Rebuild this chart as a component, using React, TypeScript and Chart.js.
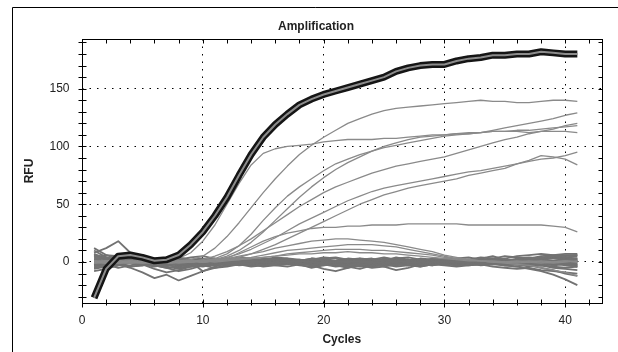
import React, { useEffect, useRef } from 'react';
import { Chart, registerables } from 'chart.js';

Chart.register(...registerables);

const FONT = "'Liberation Sans', Arial, sans-serif";

const CYCLES = [1, 2, 3, 4, 5, 6, 7, 8, 9, 10, 11, 12, 13, 14, 15, 16, 17, 18, 19, 20, 21, 22, 23, 24, 25, 26, 27, 28, 29, 30, 31, 32, 33, 34, 35, 36, 37, 38, 39, 40, 41];

const X_TICKS = [0, 10, 20, 30, 40];
const Y_TICKS = [0, 50, 100, 150];

const BOLD = [-31, -6, 5, 6, 4, 1, 2, 6, 15, 26, 40, 56, 75, 93, 108, 119, 128, 136, 141, 145, 148, 151, 154, 157, 160, 165, 168, 170, 171, 171, 174, 176, 177, 179, 179, 180, 180, 182, 181, 180, 180];

const CURVE_A = [0, 1, 0, -1, 0, 1, 0, 1, 2, 5, 12, 22, 34, 47, 60, 72, 83, 93, 101, 108, 114, 120, 124, 128, 131, 133, 134, 135, 136, 137, 138, 139, 140, 139, 139, 138, 138, 139, 140, 140, 139];
const CURVE_B = [1, 0, -1, 0, 1, 0, 1, 3, 8, 18, 32, 50, 68, 84, 94, 98, 100, 101, 102, 104, 105, 106, 106, 106, 107, 107, 108, 109, 110, 110, 111, 111, 112, 113, 113, 113, 112, 113, 113, 113, 112];
const CURVE_D = [0, -1, 0, 1, 0, -1, 0, 1, 0, 1, 3, 7, 14, 24, 36, 47, 57, 65, 72, 79, 85, 89, 93, 96, 99, 101, 103, 105, 107, 109, 110, 111, 112, 114, 116, 118, 120, 122, 124, 127, 129];
const CURVE_E = [-1, 0, 1, 0, -1, 0, 1, 0, 0, 2, 5, 9, 14, 20, 27, 34, 41, 48, 54, 60, 65, 69, 73, 77, 80, 83, 85, 87, 89, 91, 94, 97, 100, 103, 106, 108, 111, 113, 115, 118, 120];
const CURVE_F = [1, 0, 0, -1, 1, 0, -1, 0, 1, 0, 2, 5, 10, 17, 26, 36, 46, 56, 65, 73, 80, 86, 91, 96, 100, 103, 106, 108, 109, 110, 111, 112, 112, 113, 113, 114, 114, 115, 116, 117, 118];
const CURVE_G = [0, 1, 0, -1, 0, 1, 0, -1, 0, 1, 2, 4, 7, 11, 16, 21, 27, 33, 38, 43, 48, 53, 57, 61, 64, 66, 68, 70, 72, 74, 76, 78, 79, 81, 83, 85, 87, 89, 90, 92, 95];
const CURVE_K = [0, -1, 0, 1, 0, 0, -1, 0, 1, 0, 1, 2, 4, 7, 11, 15, 20, 25, 30, 35, 40, 45, 50, 54, 58, 61, 64, 66, 68, 70, 72, 75, 77, 79, 81, 85, 88, 92, 91, 89, 84];
const CURVE_I = [0, 1, -1, 0, 1, 0, -1, 0, 1, 0, 1, 3, 8, 13, 18, 22, 25, 27, 29, 30, 30, 31, 31, 32, 32, 32, 33, 33, 33, 33, 33, 32, 32, 32, 32, 32, 32, 32, 31, 30, 26];

const HUMP_1 = [1, -1, 0, 1, 0, -1, 0, 1, 0, 1, 2, 3, 5, 7, 9, 12, 14, 16, 18, 19, 20, 20, 19, 18, 17, 15, 13, 11, 9, 6, 4, 2, 1, 0, 0, -1, 0, 1, 0, 1, 0];
const HUMP_2 = [0, 1, -1, 0, 1, 0, -1, 0, 1, 0, 1, 2, 3, 4, 6, 8, 10, 11, 12, 13, 14, 15, 15, 15, 14, 13, 11, 9, 7, 5, 3, 2, 1, 0, 0, 1, 0, -1, 0, 1, 0];
const HUMP_3 = [-1, 0, 1, 0, -1, 0, 1, 0, 0, 1, 0, 1, 2, 3, 4, 5, 7, 8, 9, 10, 11, 11, 11, 10, 10, 9, 8, 7, 6, 4, 3, 2, 1, 1, 0, 0, 1, 0, -1, 0, 1];
const HUMP_4 = [0, 0, 1, 0, 1, 0, -1, 0, 1, 0, 1, 2, 2, 3, 4, 5, 6, 7, 7, 8, 8, 9, 8, 8, 7, 7, 6, 5, 4, 3, 2, 1, 1, 0, -1, -2, -3, -5, -7, -9, -12];

const NOISE_01 = [8, 12, 18, 8, 2, -1, 0, 1, -1, 0, 1, 0, -1, 1, 0, -1, 0, 1, 0, -1, 0, 1, 0, 0, -1, 1, 0, -1, 0, 1, 0, 0, 1, -1, 0, 1, 0, -1, 1, 2, 3];
const NOISE_02 = [2, 0, -2, -5, -9, -14, -11, -16, -12, -8, -5, -3, -2, -1, 0, -1, 0, 1, 0, -1, 0, 0, 1, 0, -1, 0, 1, 0, 0, -1, 0, 1, 0, 0, -1, -2, -3, -5, -7, -10, -12];
const NOISE_03 = [-5, -3, 0, 1, -2, -6, -9, -7, -4, -2, -3, -1, 0, 1, -1, 0, 2, 1, 0, -2, -1, 0, 1, 0, 2, 1, 0, -1, 0, 1, 0, -1, 0, 1, 0, 1, 0, 0, 1, 2, 1];
const NOISE_04 = [12, 6, 3, 2, 1, 0, -1, 0, 1, -1, 0, 2, 1, 0, -1, 0, 1, 2, 0, -1, 1, 0, -1, 2, 0, -1, 0, 1, 0, -1, 1, 0, 3, 1, 0, 2, 3, 4, 5, 6, 6];
const NOISE_05 = [-8, -6, -3, -1, 0, -2, -4, -6, -3, -1, 0, -2, -1, 0, -3, -2, 0, -1, -3, -6, -8, -5, -3, -1, -4, -7, -5, -2, -1, 0, -1, 0, -1, -2, -3, -4, -6, -8, -11, -15, -20];
const NOISE_06 = [3, 4, 2, 0, 1, 2, 0, -1, 1, 2, 1, 0, 2, 1, 3, 2, 1, 0, 2, 3, 1, 2, 0, 1, 3, 2, 1, 2, 0, 1, 2, 1, 0, 2, 1, 3, 4, 3, 5, 4, 5];
const NOISE_07 = [0, -2, -1, 1, 0, -1, -3, -2, 0, -8, -4, -1, 0, -1, -2, 0, -1, -2, 0, -1, -2, -4, -6, -3, -1, 0, -2, -1, 0, -1, 0, -1, -2, -1, -3, -2, -4, -3, -5, -6, -7];
const NOISE_08 = [5, 2, 0, -1, 1, 3, 1, 0, 2, 1, -1, 0, 1, 3, 1, 0, -1, 1, 2, 0, 1, 3, 2, 0, 1, 4, 2, 1, 0, 1, 0, 2, 1, 0, 1, 0, 2, 1, 0, -1, -2];
const NOISE_09 = [-3, 0, 2, 3, 2, 0, -1, -2, -1, 0, 1, 0, -1, -2, 0, 1, 0, -2, -1, 0, -1, -3, -1, 0, 1, 0, -1, -2, -3, -1, 0, 1, 3, 5, 2, 0, 1, 2, 0, 1, 0];
const NOISE_10 = [7, 3, 1, 0, -1, -2, 0, 1, 0, -1, -2, -1, 1, 0, -1, -2, -1, 0, 1, -1, -2, 0, -1, -3, -2, 0, 1, 0, -1, 0, -1, 0, 1, 0, -1, 0, 1, 2, 3, 4, 3];
const NOISE_11 = [-1, 1, 3, 2, 0, -3, -5, -8, -6, -3, -1, 0, 1, 0, 2, 1, 0, 1, 3, 2, 0, 1, 0, -1, 0, 2, 1, 0, 1, 0, -1, 0, -1, 0, -2, -1, 0, -2, -1, -3, -4];
const NOISE_12 = [1, -1, 0, 2, 4, 3, 1, 2, 4, 5, 3, 1, 0, -1, 0, 1, -1, -2, 0, 1, 0, -1, 0, 1, -1, 0, 2, 1, -1, 0, 1, 2, 0, -1, 1, 0, -2, -1, -3, -2, -4];
const NOISE_13 = [-6, -4, -2, 0, 1, 0, -2, -5, -4, -3, -2, -1, -3, -2, -1, 0, -2, -1, -2, -3, -1, -2, -4, -2, -1, -2, -3, -1, -2, 0, -1, -2, 0, -1, -2, 0, 1, 0, -1, 0, 1];
const NOISE_14 = [4, 6, 5, 3, 1, 0, 2, 3, 1, 0, 2, 3, 2, 1, 0, 2, 3, 1, 2, 4, 3, 1, 2, 3, 1, 0, 2, 1, 3, 2, 1, 0, 1, 2, 3, 5, 6, 7, 6, 7, 7];
const NOISE_15 = [-2, -4, -3, -1, -2, -4, -2, -1, -3, -4, -2, -3, -1, -2, -4, -3, -2, -1, -3, -2, -4, -3, -2, -4, -3, -1, -2, -3, -1, -2, -3, -2, -1, -2, -1, -2, -3, -2, -1, -2, -3];
const NOISE_16 = [10, 4, -2, -4, -3, -1, 0, -2, -3, -1, 0, -1, -2, -3, -2, -1, 0, -2, -1, 0, -3, -5, -2, -1, 0, -1, -2, -4, -2, -1, 0, -1, 0, 1, -1, -2, -1, -3, -2, -1, -2];
const NOISE_17 = [2, 3, 1, 2, 3, 1, 2, 4, 2, 3, 1, 2, 4, 3, 2, 4, 3, 2, 1, 3, 4, 2, 3, 1, 2, 3, 4, 2, 1, 2, 3, 2, 4, 3, 2, 1, 3, 2, 4, 3, 2];
const NOISE_18 = [-3, -1, -2, -4, -3, -1, -2, -3, -4, -2, -1, -3, -2, -4, -3, -2, -1, -3, -4, -2, -3, -1, -2, -3, -2, -4, -3, -2, -3, -1, -2, -3, -2, -1, -3, -4, -2, -3, -4, -5, -4];
const NOISE_19 = [0, 2, 1, -1, 0, 1, 2, 0, -1, 1, 0, 2, 1, -1, 0, 1, 2, 0, 1, -1, 0, 2, 1, 0, -1, 1, 2, 0, 1, 2, 0, -1, 1, 0, 2, 1, 0, 2, 1, 3, 2];
const NOISE_20 = [-1, -2, 0, -1, -3, -2, 0, -1, -2, -3, -1, 0, -2, -1, -3, -2, 0, -1, -2, -1, -3, -2, -1, 0, -2, -3, -1, -2, 0, -1, -2, -1, -3, -2, -1, 0, -2, -3, -2, -1, -3];
const NOISE_21 = [6, 3, 4, 2, 3, 1, 3, 2, 0, 2, 3, 1, 2, 0, 1, 3, 2, 1, 3, 2, 0, 1, 3, 2, 4, 2, 1, 3, 2, 1, 3, 4, 2, 3, 5, 4, 3, 5, 6, 5, 6];
const NOISE_22 = [-4, -2, -5, -3, -1, -3, -5, -4, -2, -3, -5, -4, -2, -3, -1, -3, -4, -2, -5, -3, -2, -4, -3, -5, -4, -2, -3, -4, -2, -3, -4, -3, -2, -4, -5, -6, -5, -7, -8, -9, -10];
const NOISE_23 = [1, 0, 2, 1, 0, -1, 1, 2, 0, 1, -1, 0, 1, 2, 1, 0, -1, 1, 0, 2, 1, -1, 0, 1, 2, 0, 1, -1, 0, 1, 2, 1, 0, 1, -1, 0, 1, 0, 1, 0, 1];
const NOISE_24 = [-2, 1, -1, 0, -2, 0, 1, -1, 0, -2, 0, -1, 1, -1, -2, 0, 1, -1, 0, -2, -1, 0, 1, -1, 0, -2, -1, 0, -1, 1, 0, -2, -1, 0, 1, -1, 0, -1, -2, 0, -1];

const CURVES = [CURVE_A, CURVE_B, CURVE_D, CURVE_E, CURVE_F, CURVE_G, CURVE_K, CURVE_I, HUMP_1, HUMP_2, HUMP_3, HUMP_4];
const NOISE = [NOISE_01, NOISE_02, NOISE_03, NOISE_04, NOISE_05, NOISE_06, NOISE_07, NOISE_08, NOISE_09, NOISE_10, NOISE_11, NOISE_12, NOISE_13, NOISE_14, NOISE_15, NOISE_16, NOISE_17, NOISE_18, NOISE_19, NOISE_20, NOISE_21, NOISE_22, NOISE_23, NOISE_24];

const pts = (vals: number[]) => vals.map((y, i) => ({ x: CYCLES[i], y }));

const framePlugin = {
  id: 'frameTicks',
  afterDraw(chart: any) {
    const { ctx, chartArea } = chart;
    const x = chart.scales.x;
    const y = chart.scales.y;
    const L = Math.round(chartArea.left) + 0.5;
    const R = Math.round(chartArea.right) + 0.5;
    const T = Math.round(chartArea.top) + 0.5;
    const B = Math.round(chartArea.bottom) + 0.5;
    ctx.save();
    ctx.strokeStyle = '#000';
    ctx.lineWidth = 1;
    ctx.setLineDash([]);
    ctx.beginPath();
    ctx.moveTo(12.5, chart.height);
    ctx.lineTo(12.5, 7.5);
    ctx.lineTo(chart.width, 7.5);
    ctx.stroke();
    ctx.strokeRect(L, T, R - L, B - T);
    ctx.beginPath();
    for (let v = 0; v <= x.max; v += 2) {
      const px = Math.round(x.getPixelForValue(v)) + 0.5;
      const major = X_TICKS.includes(v);
      ctx.moveTo(px, B - 4);
      ctx.lineTo(px, B + (major ? 4 : 2));
      ctx.moveTo(px, T);
      ctx.lineTo(px, T + 4);
    }
    for (let v = -30; v <= y.max; v += 10) {
      const py = Math.round(y.getPixelForValue(v)) + 0.5;
      ctx.moveTo(L - 4, py);
      ctx.lineTo(L + 4, py);
      ctx.moveTo(R - 4, py);
      ctx.lineTo(R, py);
    }
    ctx.stroke();
    ctx.restore();
  },
};

export default function App() {
  const ref = useRef<HTMLCanvasElement | null>(null);

  useEffect(() => {
    document.body.style.margin = '0';
    const canvas = ref.current;
    if (!canvas) return;

    const datasets: any[] = [
      { data: pts(BOLD), borderColor: '#8c8c8c', borderWidth: 2, order: 0 },
      { data: pts(BOLD), borderColor: '#151515', borderWidth: 7, order: 1 },
    ];
    CURVES.forEach((c) => datasets.push({ data: pts(c), borderColor: '#8a8a8a', borderWidth: 1.3, order: 2 }));
    NOISE.forEach((c) => datasets.push({ data: pts(c), borderColor: '#727272', borderWidth: 1.8, order: 3 }));
    datasets.forEach((d) => {
      d.pointRadius = 0;
      d.tension = 0;
      d.fill = false;
      d.borderJoinStyle = 'round';
    });

    const chart = new Chart(canvas, {
      type: 'line',
      data: { datasets },
      plugins: [framePlugin],
      options: {
        animation: false,
        responsive: false,
        events: [],
        layout: { padding: { left: 14, top: 0, right: 0, bottom: 0 } },
        plugins: {
          legend: { display: false },
          tooltip: { enabled: false },
          title: {
            display: true,
            text: 'Amplification',
            color: '#222',
            font: { family: FONT, size: 12, weight: 'bold' },
            padding: { top: 19.5, bottom: 5.1 },
          },
        },
        scales: {
          x: {
            type: 'linear',
            position: 'bottom',
            min: 0,
            max: 43,
            afterBuildTicks: (s: any) => { s.ticks = X_TICKS.map((v) => ({ value: v })); },
            ticks: { stepSize: 10, includeBounds: false, padding: 10, color: '#222', font: { family: FONT, size: 12 }, maxRotation: 0, autoSkip: false },
            grid: { color: '#000', lineWidth: 1, drawTicks: false },
            border: { display: false, dash: [1.5, 6] },
            title: { display: true, text: 'Cycles', color: '#222', font: { family: FONT, size: 12, weight: 'bold' }, padding: { top: 0, bottom: 4.8 } },
            afterFit: (s: any) => { s.height = 49; },
          },
          y: {
            type: 'linear',
            position: 'left',
            min: -35.5,
            max: 193,
            afterBuildTicks: (s: any) => { s.ticks = Y_TICKS.map((v) => ({ value: v })); },
            ticks: { stepSize: 50, includeBounds: false, padding: 12.5, color: '#222', font: { family: FONT, size: 12 } },
            grid: { color: '#000', lineWidth: 1, drawTicks: false },
            border: { display: false, dash: [1.5, 6] },
            title: { display: true, text: 'RFU', color: '#222', font: { family: FONT, size: 12, weight: 'bold' }, padding: { top: 8.3, bottom: 0 } },
            afterFit: (s: any) => { s.width = 68; },
          },
          y2: {
            type: 'linear',
            position: 'right',
            display: true,
            grid: { display: false, drawTicks: false },
            ticks: { display: false },
            border: { display: false },
            afterFit: (s: any) => { s.width = 16.5; },
          },
        },
      } as any,
    });
    return () => chart.destroy();
  }, []);

  return (
    <div style={{ width: 618, height: 352, background: '#fff' }}>
      <canvas ref={ref} width={618} height={352} style={{ display: 'block' }} />
    </div>
  );
}
